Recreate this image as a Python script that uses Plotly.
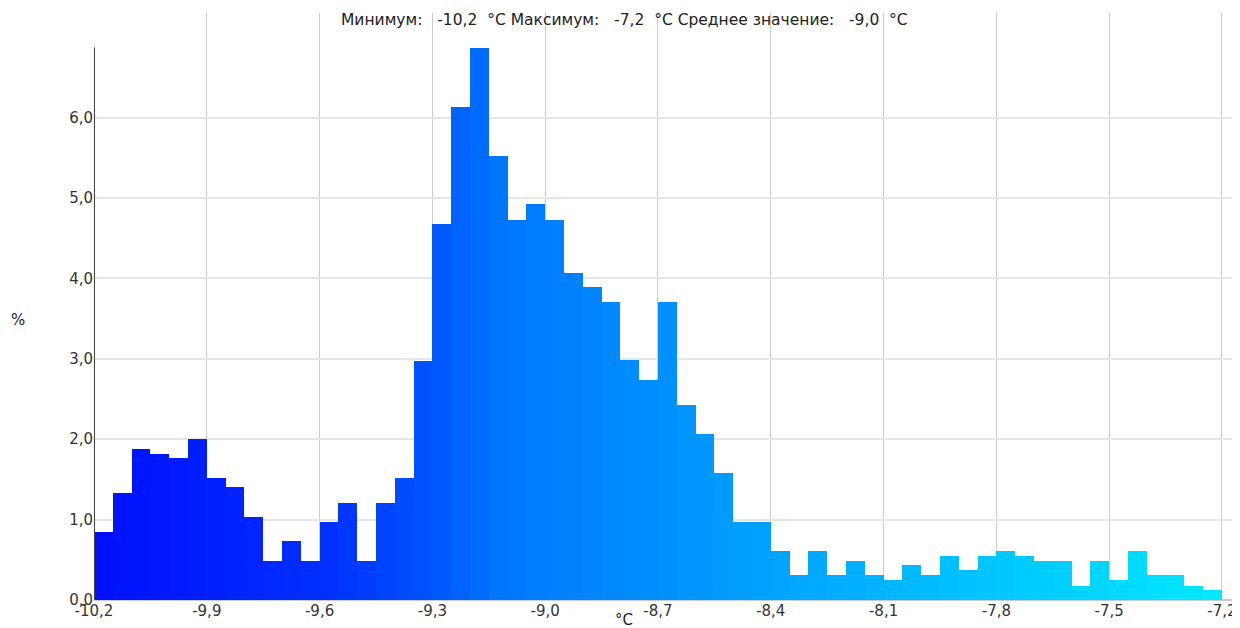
import plotly.graph_objects as go
import numpy as np

bin_start = -10.2
bin_width = 0.05
percent = [
    0.85, 1.33, 1.88, 1.82, 1.76, 2.00, 1.52, 1.40, 1.03, 0.49,
    0.73, 0.49, 0.97, 1.21, 0.49, 1.21, 1.52, 2.97, 4.68, 6.13,
    6.86, 5.52, 4.73, 4.92, 4.73, 4.07, 3.89, 3.70, 2.98, 2.73,
    3.70, 2.43, 2.07, 1.58, 0.97, 0.97, 0.61, 0.31, 0.61, 0.31,
    0.49, 0.31, 0.25, 0.43, 0.31, 0.55, 0.37, 0.55, 0.61, 0.55,
    0.49, 0.49, 0.18, 0.49, 0.25, 0.61, 0.31, 0.31, 0.18, 0.12,
]
x_ticks = [-10.2, -9.9, -9.6, -9.3, -9.0, -8.7, -8.4, -8.1, -7.8, -7.5, -7.2]
y_ticks = [0, 1, 2, 3, 4, 5, 6]
SP3 = "&nbsp;&nbsp; "
SP2 = "&nbsp; "
SP1 = " "
title_text = ("Минимум:" + SP3 + "-10,2" + SP2 + "°C" + SP1 + "Максимум:" + SP3 + "-7,2" + SP2 +
              "°C" + SP1 + "Среднее значение:" + SP3 + "-9,0" + SP2 + "°C")

n = len(percent)
centers = [bin_start + bin_width * (i + 0.5) for i in range(n)]

# colour gradient blue -> cyan
cp_idx = [0, 12, 18, 21, 40, 59]
cp_g = [16, 48, 88, 118, 176, 232]
colors = ["rgb(0,%d,255)" % int(round(np.interp(i, cp_idx, cp_g))) for i in range(n)]

FONT = "DejaVu Sans"
FS = 15

fig = go.Figure()
fig.add_trace(go.Bar(
    x=centers, y=percent, width=bin_width,
    marker=dict(color=colors, line=dict(width=0)),
    hoverinfo="x+y",
))

ymax_axis = 6.87
fig.add_shape(type="line", xref="x", yref="y", x0=-10.2, x1=-10.2, y0=0, y1=ymax_axis,
              line=dict(color="#444444", width=2), layer="above")

fig.update_layout(
    width=1232, height=620,
    margin=dict(l=86, r=0, t=5, b=28),
    paper_bgcolor="white", plot_bgcolor="white",
    showlegend=False,
    bargap=0,
    font=dict(family=FONT, size=FS, color="#333333"),
    xaxis=dict(
        range=[-10.2, -7.152],
        tickmode="array", tickvals=x_ticks,
        ticktext=[("%.1f" % v).replace(".", ",") for v in x_ticks],
        showgrid=True, gridcolor="#cccccc", gridwidth=1,
        showline=False, zeroline=False,
        ticks="", ticklen=0,
        tickfont=dict(family=FONT, size=FS, color="#333333"),
    ),
    yaxis=dict(
        range=[0, 7.30],
        tickmode="array", tickvals=y_ticks,
        ticktext=[("%.1f" % v).replace(".", ",") for v in y_ticks],
        showgrid=True, gridcolor="#e6e6e6", gridwidth=1.5,
        showline=False, zeroline=True, zerolinecolor="#c4ccd8", zerolinewidth=1.5,
        ticks="", ticklen=0,
        tickfont=dict(family=FONT, size=FS, color="#333333"),
    ),
    annotations=[
        dict(text=title_text, xref="paper", yref="paper", x=(624 - 94) / 1146, y=1,
             yshift=-7, xanchor="center", yanchor="middle", showarrow=False,
             font=dict(family=FONT, size=15.5, color="#222222")),
        dict(text="%", xref="paper", yref="paper", x=-(94 - 18) / 1146, y=(600 - 320) / 587,
             xanchor="center", yanchor="middle", showarrow=False,
             font=dict(family=FONT, size=FS, color="#222222")),
        dict(text="°C", xref="paper", yref="paper", x=(624 - 94) / 1146, y=0,
             yshift=-20, xanchor="center", yanchor="middle", showarrow=False,
             font=dict(family=FONT, size=FS, color="#222222")),
    ],
)

fig.write_html("out.html")
